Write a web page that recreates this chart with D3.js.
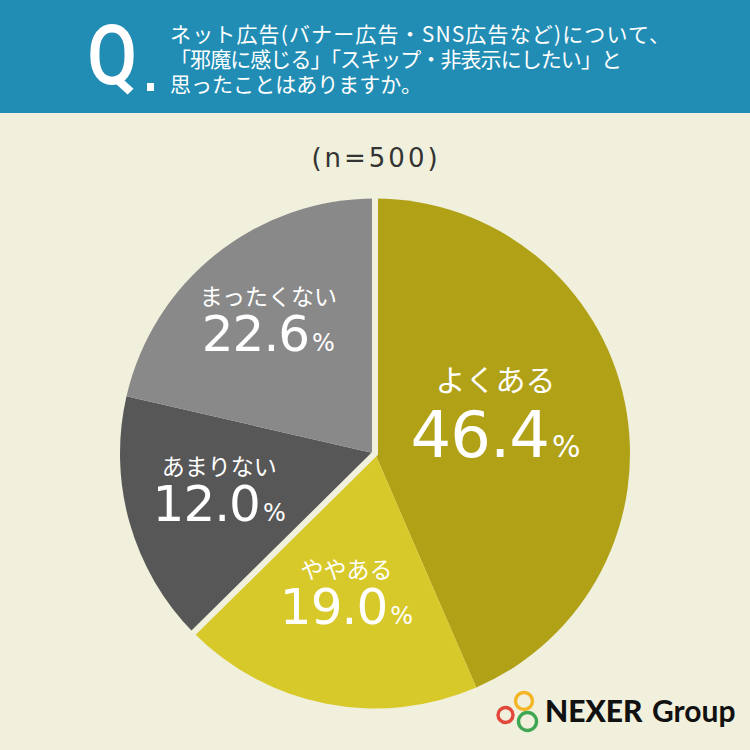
<!DOCTYPE html>
<html><head><meta charset="utf-8">
<script src="https://cdn.jsdelivr.net/npm/d3@7"></script>
<style>html,body{margin:0;padding:0;background:#f1f0dc;}svg{display:block;}</style>
</head><body>
<svg id="chart" width="750" height="750"></svg>
<script>
// ---- data ----
const titleLines = ["ネット広告(バナー広告・SNS広告など)について、", "「邪魔に感じる」「スキップ・非表示にしたい」と", "思ったことはありますか。"];
const sampleLabel = "(n=500)";
const categories = ["よくある", "ややある", "あまりない", "まったくない"];
const percentValues = [46.4, 19.0, 12.0, 22.6];
// wedge shares as actually drawn in the reference picture (the reference wedges are not to scale)
const drawnShare = [43.5, 19.1, 16.0, 21.4];
const sliceColors = ["#b0a117", "#d8c92b", "#575757", "#898989"];

// ---- layout ----
const W = 750, H = 750;
const bg = "#f1f0dc";
const svg = d3.select("#chart");
svg.append("rect").attr("width", W).attr("height", H).attr("fill", bg);

// header band
svg.append("rect").attr("x", 0).attr("y", 0).attr("width", W).attr("height", 113).attr("fill", "#228db4");
svg.append("text").text("Q")
  .attr("transform", "translate(87,84) scale(0.88,1)")
  .attr("font-family", "Roboto, 'DejaVu Sans', sans-serif")
  .attr("font-weight", 500).attr("font-size", 83).attr("fill", "#fff");
svg.append("rect").attr("x", 147).attr("y", 83).attr("width", 7).attr("height", 8).attr("fill", "#fff");
const lineLen = [500, 452, 252];
const title = svg.append("text")
  .attr("font-family", "'Noto Sans CJK JP', sans-serif")
  .attr("font-size", 21).attr("font-weight", 400).attr("fill", "#fff");
title.selectAll("tspan").data(titleLines).join("tspan")
  .attr("x", 170).attr("y", (d, i) => 42 + i * 25)
  .attr("textLength", (d, i) => lineLen[i])
  .attr("lengthAdjust", "spacing")
  .text(d => d);

// sample size
svg.append("text").text(sampleLabel)
  .attr("x", 376).attr("y", 167).attr("text-anchor", "middle")
  .attr("font-family", "'DejaVu Sans', sans-serif")
  .attr("letter-spacing", 3)
  .attr("font-size", 26).attr("fill", "#333");

// pie
const cx = 375, cy = 453.5, R = 255;
const pie = d3.pie().sort(null).value((d, i) => drawnShare[i]);
const arcs = pie(categories);
const arc = d3.arc().innerRadius(0).outerRadius(R);
const g = svg.append("g").attr("transform", `translate(${cx},${cy})`);
g.selectAll("path.slice").data(arcs).join("path")
  .attr("class", "slice")
  .attr("d", arc)
  .attr("fill", (d, i) => sliceColors[i]);

// separator between the "ある" group and the "ない" group
const pt = (a, r) => [Math.sin(a) * r, -Math.cos(a) * r];
const sep = d3.path();
const p0 = pt(arcs[0].startAngle, R + 6), p1 = pt(arcs[2].startAngle, R + 6);
sep.moveTo(p0[0], p0[1]); sep.lineTo(0, 0); sep.lineTo(p1[0], p1[1]);
g.append("path").attr("d", sep.toString()).attr("fill", "none")
  .attr("stroke", bg).attr("stroke-width", 6).attr("stroke-linejoin", "miter");

// labels
const labelR = [123, 150, 162, 160];
const labelDx = [0, 0, 0, -7];
const fmt = d3.format(".1f");
const lab = g.selectAll("text.lab").data(arcs).join("text").attr("class", "lab")
  .attr("text-anchor", "middle")
  .attr("fill", "#fff")
  .attr("transform", (d, i) => {
    const a = (d.startAngle + d.endAngle) / 2;
    const p = pt(a, labelR[i]);
    return `translate(${p[0] + labelDx[i]},${p[1]})`;
  });
lab.append("tspan")
  .attr("x", 0)
  .attr("y", (d, i) => i === 0 ? -38 : -23)
  .attr("font-family", "'Noto Sans CJK JP', sans-serif")
  .attr("font-size", (d, i) => i === 0 ? 30 : 23)
  .text((d, i) => categories[i]);
lab.append("tspan")
  .attr("x", 0)
  .attr("y", (d, i) => i === 0 ? 28 : 23)
  .attr("font-family", "'DejaVu Sans', sans-serif")
  .attr("font-size", (d, i) => i === 0 ? 64 : 50)
  .attr("letter-spacing", -1)
  .text((d, i) => fmt(percentValues[i]));
lab.append("tspan")
  .attr("font-family", "'DejaVu Sans', sans-serif")
  .attr("font-size", (d, i) => i === 0 ? 30 : 24)
  .attr("dx", 3)
  .text("%");

// logo
const logo = svg.append("g");
const rings = [
  {x: 505.5, y: 715, r: 7.5, c: "#e2483b"},
  {x: 524, y: 701, r: 8.5, c: "#f4b527"},
  {x: 527.5, y: 721.5, r: 9, c: "#3fa652"}
];
logo.selectAll("circle").data(rings).join("circle")
  .attr("cx", d => d.x).attr("cy", d => d.y).attr("r", d => d.r)
  .attr("fill", "none").attr("stroke", d => d.c).attr("stroke-width", 3.4);
logo.append("text").text("NEXER")
  .attr("x", 545).attr("y", 722)
  .attr("font-family", "Lato, sans-serif").attr("font-weight", 900)
  .attr("font-size", 30).attr("fill", "#111");
logo.append("text").text("Group")
  .attr("x", 652).attr("y", 722)
  .attr("font-family", "Lato, sans-serif").attr("font-weight", 700)
  .attr("font-size", 30).attr("fill", "#111");
</script>
</body></html>
